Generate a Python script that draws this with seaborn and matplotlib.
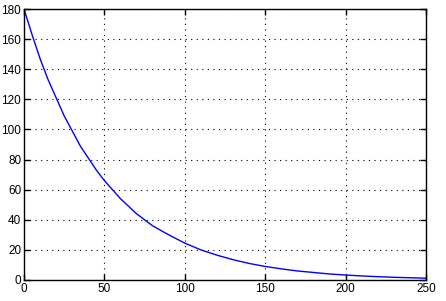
import matplotlib
matplotlib.use("Agg")
import matplotlib.pyplot as plt
import seaborn as sns
import pandas as pd

x_values = [0, 5, 10, 15, 20, 25, 30, 35, 40, 45, 50, 60, 70, 80, 90, 100, 110, 120,
            130, 140, 150, 160, 170, 180, 190, 200, 210, 220, 230, 240, 250]
y_values = [180, 163, 147, 133, 121, 109, 99, 89, 81, 73, 66, 54, 44, 36, 30, 24.5,
            20, 16.5, 13.5, 11, 9, 7.4, 6, 5, 4, 3.3, 2.7, 2.2, 1.8, 1.5, 1.2]
x_ticks = [0, 50, 100, 150, 200, 250]
y_ticks = [0, 20, 40, 60, 80, 100, 120, 140, 160, 180]

df = pd.DataFrame({"x": x_values, "y": y_values})

sns.set_style("white")
plt.rcParams['font.family'] = ['Liberation Sans', 'DejaVu Sans']

fig = plt.figure(figsize=(4.46, 3.01), dpi=100)
ax = fig.add_axes([24/446, 21/301, 402/446, 271/301])
sns.lineplot(data=df, x="x", y="y", ax=ax, color="#0000ff", linewidth=1.0)

ax.set_xlim(0, 250)
ax.set_ylim(0, 180)
ax.set_xticks(x_ticks)
ax.set_yticks(y_ticks)
ax.set_xlabel("")
ax.set_ylabel("")
ax.grid(True, linestyle=(0, (1, 4)), color="black", linewidth=0.8)
ax.tick_params(direction="in", length=4, width=1, labelsize=8.5, colors="black",
               top=True, right=True, left=True, bottom=True, pad=2)
for s in ax.spines.values():
    s.set_visible(True)
    s.set_color("black")
    s.set_linewidth(1.0)

fig.savefig("out.png", dpi=100, facecolor="white")
